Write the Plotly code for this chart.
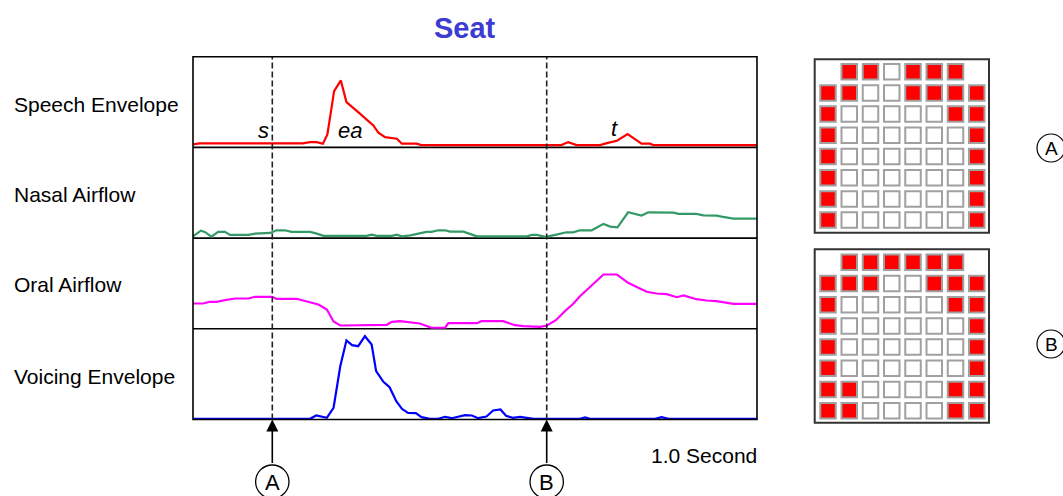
import plotly.graph_objects as go

W, H = 1063, 496
FONT = "Liberation Sans, Arial, Helvetica, sans-serif"

# ---------------- data (time in ms, amplitude in arbitrary units) ----------------
title_text = "Seat"
row_labels = ["Speech Envelope", "Nasal Airflow", "Oral Airflow", "Voicing Envelope"]
scale_label = "1.0 Second"

time_speech = [0, 12, 196, 209, 221, 232, 240, 252, 264, 274, 298, 322, 331, 343, 364, 373,
               399, 408, 658, 670, 685, 727, 739, 757, 776, 801, 816, 822, 1007]
speech_env = [3, 4, 4, 5.3, 5.3, 3.7, 13, 56.3, 67, 45.3, 33.7, 22, 14.7, 10.3, 8.7, 3.7,
              3.7, 2.3, 2.3, 5.3, 2.3, 2.3, 4.3, 6.7, 13.3, 3.7, 3.7, 2.3, 2.3]

time_nasal = [0, 14, 21, 33, 45, 57, 66, 99, 111, 138, 149, 164, 176, 209, 221, 233, 310, 319,
              328, 355, 364, 373, 388, 405, 417, 426, 438, 450, 459, 483, 498, 507, 596, 605,
              614, 630, 649, 667, 679, 691, 712, 733, 745, 758, 777, 801, 813, 858, 867, 899,
              911, 935, 944, 965, 1007]
nasal_flow = [1.8, 7.5, 6.2, 1.5, 6.2, 6.2, 3.2, 3.2, 4.5, 5.2, 7.8, 7.8, 6.2, 6.2, 4.5, 2.2,
              2.2, 3.5, 2.2, 2.2, 3.5, 1.8, 2.8, 4.8, 6.2, 6.2, 7.8, 7.8, 6.5, 6.5, 3.2, 1.8,
              1.8, 3.2, 3.2, 1.2, 3.5, 5.8, 5.8, 7.8, 7.8, 14.2, 11.5, 10.8, 25.8, 22.5, 25.8,
              25.5, 24.2, 24.2, 22.8, 22.5, 21.5, 19.5, 19.5]

time_oral = [0, 18, 30, 42, 57, 75, 99, 111, 141, 149, 185, 200, 224, 239, 251, 263, 346, 355,
             370, 405, 426, 450, 456, 507, 515, 554, 575, 590, 620, 632, 648, 664, 679, 691,
             733, 757, 777, 810, 828, 846, 864, 876, 899, 917, 935, 965, 1007]
oral_flow = [25.3, 25.3, 27, 27, 28.6, 30.3, 30.3, 32, 32, 30, 30, 28, 24.3, 19.3, 7.3, 3.3,
             4, 7, 7.6, 5.3, 1, 1, 5.6, 5.6, 7.6, 7.6, 3.6, 2.6, 2, 3.3, 8.6, 17.6, 25, 32.6,
             54.3, 54.3, 46, 37, 35.3, 34.6, 31.6, 33.3, 29.6, 28.3, 27.6, 25, 25]

time_voice = [0, 209, 220, 239, 251, 263, 274, 284, 295, 307, 319, 327, 340, 351, 363, 373,
              384, 398, 408, 423, 438, 450, 462, 486, 498, 509, 524, 536, 549, 559, 571, 584,
              596, 608, 691, 700, 709, 825, 837, 849, 1007]
voice_env = [0.7, 0.7, 4, 1.7, 11.7, 53.3, 79, 74.3, 73.3, 83.3, 75, 48.3, 37.7, 32.3, 18.3,
             10.7, 6.7, 6.3, 2.3, 0.7, 0.7, 2.7, 1.3, 4.3, 4, 1.3, 3, 9, 10, 3.7, 1.7, 2.7,
             1.7, 0.7, 0.7, 2, 0.7, 0.7, 2.3, 0.7, 0.7]

segment_labels = ["s", "ea", "t"]
segment_times = [125, 280, 752]
segment_levels = [17, 17, 19]

marker_labels = ["A", "B"]
marker_times = [141.6, 631.6]

# 8x8 electrode contact patterns: R = contact, W = no contact, - = no electrode
grid_a = ["-RRWRRR-",
          "RRWWRRRR",
          "RWWWWWRR",
          "RWWWWWWR",
          "RWWWWWWR",
          "RWWWWWWR",
          "RWWWWWWR",
          "RWWWWWWR"]
grid_b = ["-RRRRRR-",
          "RRRWWRRR",
          "RWWWWWRR",
          "RWWWWWWR",
          "RWWWWWWR",
          "RWWWWWWR",
          "RRWWWWRR",
          "RRWWWWRR"]

# ---------------- geometry helpers ----------------
def px(x):
    return x / W

def py(y):
    return 1 - y / H

L, R = 193, 757
TOP, BOT = 56.7, 419.5
ph = (BOT - TOP) / 4
bounds = [TOP + i * ph for i in range(5)]
XR = [0, (R - L) * 1000 / 560]

colors = ["#ff0000", "#339966", "#ff00ff", "#0000ff"]
series = [(time_speech, speech_env), (time_nasal, nasal_flow),
          (time_oral, oral_flow), (time_voice, voice_env)]

fig = go.Figure()
layout = dict(
    width=W, height=H,
    margin=dict(l=0, r=0, t=0, b=0),
    paper_bgcolor="white", plot_bgcolor="rgba(0,0,0,0)",
    showlegend=False,
    font=dict(family=FONT, color="black"),
)

for i, (t, v) in enumerate(series):
    n = "" if i == 0 else str(i + 1)
    fig.add_trace(go.Scatter(x=t, y=v, mode="lines",
                             line=dict(color=colors[i], width=2.2),
                             xaxis="x" + n, yaxis="y" + n, hoverinfo="skip"))
    layout["xaxis" + n] = dict(domain=[px(L), px(R)], range=XR, visible=False,
                               anchor="y" + n, fixedrange=True)
    layout["yaxis" + n] = dict(domain=[py(bounds[i + 1]), py(bounds[i])], range=[0, ph],
                               visible=False, anchor="x" + n, fixedrange=True)

# grids
grid_specs = [(grid_a, 5, (59.3, 232.7), (-0.585, 7.594)),
              (grid_b, 6, (249.3, 422.7), (-0.613, 7.566))]
shapes = []
for g, k, (gt, gb), (ya, yb) in grid_specs:
    for fill, ch in [("#ff0000", "R"), ("white", "W")]:
        xs, ys = [], []
        for r, row in enumerate(g):
            for c, cell in enumerate(row):
                if cell == ch:
                    xs.append(c)
                    ys.append(r)
        fig.add_trace(go.Scatter(x=xs, y=ys, mode="markers",
                                 marker=dict(symbol="square", size=15.5, color=fill,
                                             line=dict(color="#a0a0a0", width=2)),
                                 xaxis="x%d" % k, yaxis="y%d" % k, hoverinfo="skip",
                                 cliponaxis=False))
    layout["xaxis%d" % k] = dict(domain=[px(814.7), px(989)], range=[-0.626, 7.576],
                                 visible=False, anchor="y%d" % k, fixedrange=True)
    layout["yaxis%d" % k] = dict(domain=[py(gb), py(gt)], range=[yb, ya],
                                 visible=False, anchor="x%d" % k, fixedrange=True)
    shapes.append(dict(type="rect", xref="x%d domain" % k, yref="y%d domain" % k,
                       x0=0, x1=1, y0=0, y1=1, line=dict(color="#333333", width=2),
                       layer="below"))

# panel frame and separators
shapes.append(dict(type="rect", xref="paper", yref="paper", x0=px(L), x1=px(R),
                   y0=py(BOT), y1=py(TOP), line=dict(color="black", width=1.6)))
for b in bounds[1:4]:
    shapes.append(dict(type="line", xref="paper", yref="paper", x0=px(L), x1=px(R),
                       y0=py(b), y1=py(b), line=dict(color="black", width=1.6), layer="below"))

annotations = []
# dashed markers, arrows, circled letters
for lab, t in zip(marker_labels, marker_times):
    shapes.append(dict(type="line", xref="x4", yref="paper", x0=t, x1=t,
                       y0=py(BOT), y1=py(TOP), line=dict(color="#222222", width=1.6,
                                                         dash="6px,3px")))
    shapes.append(dict(type="circle", xref="x4", yref="paper", xsizemode="pixel",
                       ysizemode="pixel", xanchor=t, yanchor=py(481.7),
                       x0=-16.7, x1=16.7, y0=-16.7, y1=16.7,
                       line=dict(color="black", width=1.3)))
    annotations.append(dict(x=t, y=py(BOT), xref="x4", yref="paper", text="",
                            showarrow=True, ax=0, ay=45, arrowhead=2, arrowsize=1.5,
                            arrowwidth=1.6, arrowcolor="black", standoff=0))
    annotations.append(dict(x=t, y=py(482.5), xref="x4", yref="paper", text=lab,
                            showarrow=False, font=dict(size=22), xanchor="center",
                            yanchor="middle"))

# right-hand circled letters
for lab, cy in zip(marker_labels, [148, 344]):
    shapes.append(dict(type="circle", xref="paper", yref="paper", xsizemode="pixel",
                       ysizemode="pixel", xanchor=px(1051), yanchor=py(cy),
                       x0=-14, x1=14, y0=-14, y1=14, line=dict(color="black", width=1.2)))
    annotations.append(dict(x=px(1051), y=py(cy + 0.5), xref="paper", yref="paper",
                            text=lab, showarrow=False, font=dict(size=19),
                            xanchor="center", yanchor="middle"))

# row labels
for lab, yy in zip(row_labels, [104, 194, 284, 376]):
    annotations.append(dict(x=px(12), y=py(yy), xref="paper", yref="paper", text=lab,
                            showarrow=False, font=dict(size=21), xanchor="left",
                            yanchor="middle"))

# segment labels in speech panel
for lab, t, lv in zip(segment_labels, segment_times, segment_levels):
    annotations.append(dict(x=t, y=lv, xref="x", yref="y", text="<i>%s</i>" % lab,
                            showarrow=False, font=dict(size=22), xanchor="center",
                            yanchor="middle"))

annotations.append(dict(x=px(465), y=py(28), xref="paper", yref="paper",
                        text="<b>%s</b>" % title_text, showarrow=False,
                        font=dict(size=29, color="#3c3cd2"), xanchor="center",
                        yanchor="middle"))
annotations.append(dict(x=px(704), y=py(455), xref="paper", yref="paper", text=scale_label,
                        showarrow=False, font=dict(size=21), xanchor="center",
                        yanchor="middle"))

layout["shapes"] = shapes
layout["annotations"] = annotations
fig.update_layout(**layout)
fig.write_html("out.html",
               config={"displayModeBar": False, "staticPlot": True},
               post_script="document.body.style.margin='0px';"
                           "document.body.style.padding='0px';"
                           "document.body.style.overflow='hidden';")
